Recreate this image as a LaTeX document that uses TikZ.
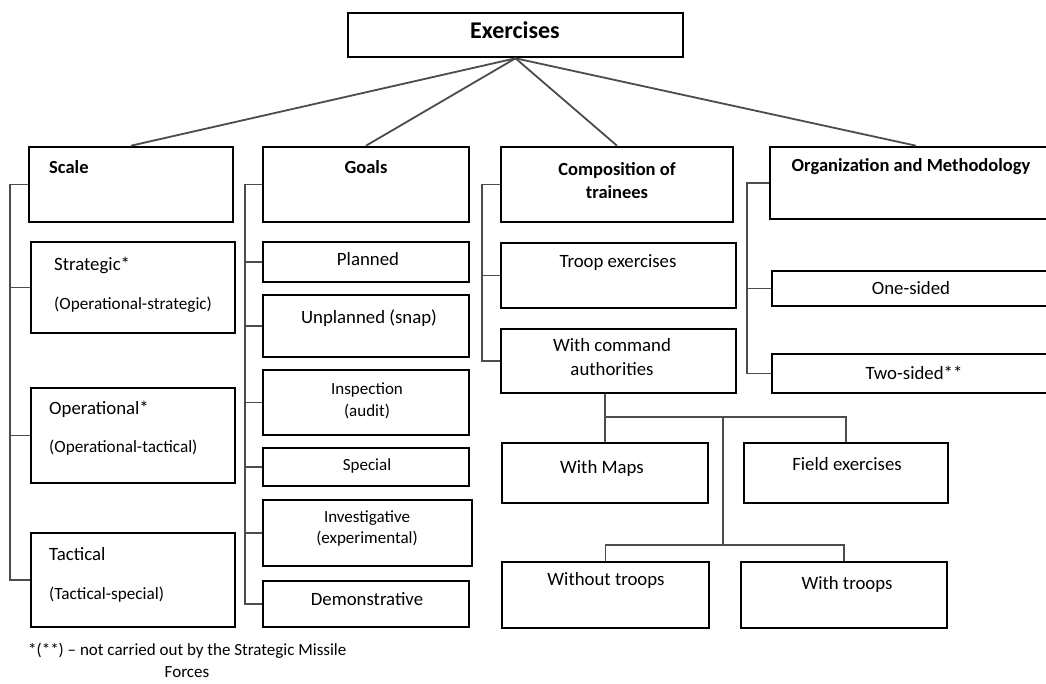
\documentclass[tikz,border=0pt]{standalone}
\usepackage{fontspec}
\setmainfont{Carlito}
\usetikzlibrary{fit,calc}
\newcommand\mybox[5]{\node[box, fit={(#2,#3) (#4,#5)}] (#1) {};}
\begin{document}
\begin{tikzpicture}[x=1pt,y=-1pt,
  box/.style={draw=black, line width=2.6pt, fill=white, inner sep=0pt},
  tx/.style={font=\fontsize{18.8}{22}\selectfont, inner sep=0pt, anchor=mid},
  txw/.style={tx, anchor=mid west},
  tsm/.style={font=\fontsize{17}{20}\selectfont, inner sep=0pt, anchor=mid},
  tsw/.style={font=\fontsize{17.2}{20}\selectfont, inner sep=0pt, anchor=mid west},
  hd/.style={font=\bfseries\fontsize{18.5}{22}\selectfont, inner sep=0pt, anchor=mid},
  hdw/.style={hd, anchor=mid west},
  top/.style={draw=black!70, line width=1.8pt},
  br/.style={draw=black!70, line width=1.5pt},
  note/.style={font=\fontsize{17}{20}\selectfont, inner sep=0pt, anchor=mid}]
\fill[white] (0,0) rectangle (1046,683);
\useasboundingbox (0,0) rectangle (1046,683);

% root
\mybox{ex}{348}{13}{683}{57}
\node[font=\bfseries\fontsize{24}{28}\selectfont, inner sep=0pt, anchor=mid] (extx) at (515,36) {Exercises};

% headers
\mybox{scale}{29}{147}{233}{222}
\mybox{goals}{263}{147}{469}{222}
\mybox{comp}{501}{147}{733}{222}
\mybox{org}{770}{147}{1062}{219}

\draw[top] (ex.south) -- (scale.north);
\draw[top] (ex.south) -- (goals.north);
\draw[top] (ex.south) -- (comp.north);
\draw[top] (ex.south) -- (org.north);

\node[hdw] (scaletx) at (49,171) {Scale};
\node[hd] (goalstx) at (366,171) {Goals};
\node[hd] (comptx1) at (617,173) {Composition of};
\node[hd] (comptx2) at (617,196) {trainees};
\node[hd] (orgtx) at (911,169) {Organization and Methodology};

% Scale column
\mybox{strat}{31}{242}{235}{333}
\mybox{oper}{31}{388}{235}{483}
\mybox{tact}{31}{533}{235}{627}
\node[txw] (strattx) at (54,268) {Strategic*};
\node[tsw] (strattx2) at (54,307) {(Operational-strategic)};
\node[txw] (opertx) at (49,412) {Operational*};
\node[tsw] (opertx2) at (49,450) {(Operational-tactical)};
\node[txw] (tacttx) at (49,558) {Tactical};
\node[tsw] (tacttx2) at (49,597) {(Tactical-special)};
\coordinate (sbar) at (10,0);
\draw[br] (scale.west) -- (scale.west -| sbar) -- (tact.west -| sbar) -- (tact.west);
\draw[br] (strat.west) -- (strat.west -| sbar);
\draw[br] (oper.west) -- (oper.west -| sbar);

% Goals column
\mybox{plan}{263}{242}{469}{282}
\mybox{unpl}{263}{295}{469}{357}
\mybox{insp}{263}{370}{469}{435}
\mybox{spec}{263}{448}{469}{486}
\mybox{inv}{263}{500}{472}{566}
\mybox{demo}{263}{581}{469}{627}
\node[tx] (plantx) at (368,263) {Planned};
\node[tx] (unpltx) at (369,321) {Unplanned (snap)};
\node[tsm] (insptx1) at (367,392) {Inspection};
\node[tsm] (insptx2) at (367,414) {(audit)};
\node[tsm] (spectx) at (367,468) {Special};
\node[tsm] (invtx1) at (367,520) {Investigative};
\node[tsm] (invtx2) at (367,541) {(experimental)};
\node[tx] (demotx) at (367,603) {Demonstrative};
\coordinate (gbar) at (245,0);
\draw[br] (goals.west) -- (goals.west -| gbar) -- (demo.west -| gbar) -- (demo.west);
\foreach \n in {plan,unpl,insp,spec,inv} \draw[br] (\n.west) -- (\n.west -| gbar);

% Composition column
\mybox{troop}{501}{243}{736}{308}
\mybox{cmd}{501}{329}{736}{393}
\node[tx] (trooptx) at (618,265) {Troop exercises};
\node[tx] (cmdtx1) at (612,349) {With command};
\node[tx] (cmdtx2) at (612,373) {authorities};
\coordinate (cbar) at (482,0);
\draw[br] (comp.west) -- (comp.west -| cbar) -- (cmd.west -| cbar) -- (cmd.west);
\draw[br] (troop.west) -- (troop.west -| cbar);

% Organization column
\mybox{one}{772}{271}{1062}{306}
\mybox{two}{772}{354}{1062}{393}
\node[tx] (onetx) at (911,292) {One-sided};
\node[tx] (twotx) at (914,377) {Two-sided**};
\coordinate (obar) at (747,0);
\draw[br] (org.west) -- (org.west -| obar) -- (two.west -| obar) -- (two.west);
\draw[br] (one.west) -- (one.west -| obar);

% lower tree
\mybox{maps}{502}{443}{708}{503}
\mybox{field}{744}{443}{948}{503}
\mybox{wo}{502}{562}{709}{628}
\mybox{wt}{741}{562}{947}{628}
\node[tx] (mapstx) at (602,471) {With Maps};
\node[tx] (fieldtx) at (847,468) {Field exercises};
\node[tx] (wotx) at (606,583) {Without troops};
\node[tx] (wttx) at (847,587) {With troops};
\coordinate (h1) at (723,417);
\coordinate (h2) at (723,545);
\draw[br] (maps.north |- cmd.south) -- (maps.north);
\draw[br] (maps.north |- h1) -- (field.north |- h1) -- (field.north);
\draw[br] (h1) -- (h2);
\draw[br] (wo.north) -- (wo.north |- h2) -- (wt.north |- h2) -- (wt.north);

% footnote
\node[note, anchor=mid west] (fn1) at (28,653) {*(**) – not carried out by the Strategic Missile};
\node[note] (fn2) at (187,675) {Forces};
\end{tikzpicture}
\end{document}
